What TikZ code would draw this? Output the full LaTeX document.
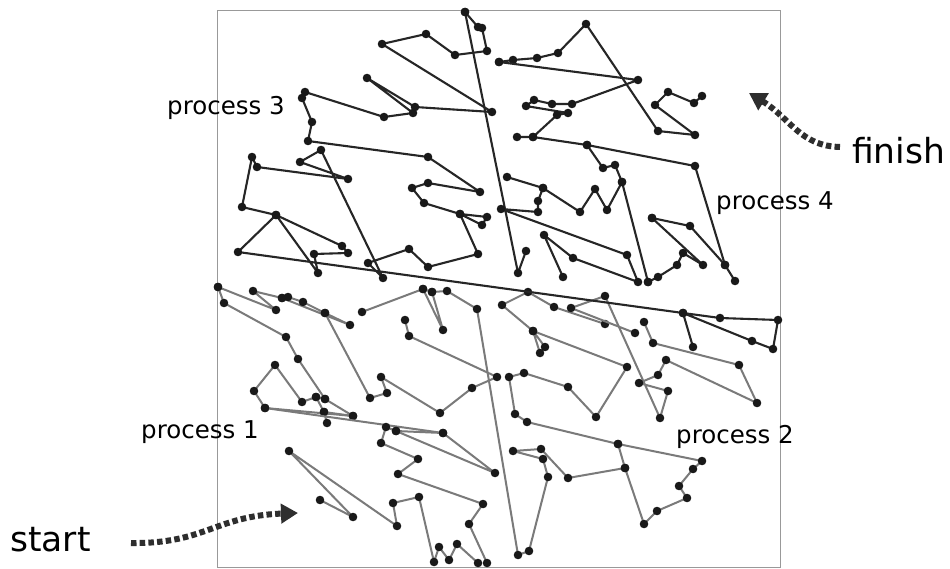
\documentclass[tikz,border=0pt]{standalone}
\usepackage{fontspec}
\newfontfamily\labfont{DejaVu Sans}
\usetikzlibrary{arrows.meta}
\tikzset{
  dk/.style={line width=2.1pt, black!85, line join=round, mark=*, mark size=4.1pt,
             mark options={fill=black!90, draw=black!90, line width=0.3pt, solid}},
  gr/.style={line width=2pt, black!52, line join=round, mark=*, mark size=4.1pt,
             mark options={fill=black!90, draw=black!90, line width=0.3pt, solid}},
  boxc/.style={draw=black!40, line width=0.8pt},
  dotarrow/.style={line width=6pt, black!82, dash pattern=on 5.5pt off 3.2pt,
                   -{Triangle[length=17pt,width=19pt]}},
  plab/.style={anchor=base west, inner sep=0pt, font=\labfont\fontsize{24.5}{28}\selectfont},
  blab/.style={anchor=base west, inner sep=0pt, font=\labfont\fontsize{34.5}{40}\selectfont}
}
\begin{document}
\begin{tikzpicture}[x=1pt,y=-1pt]
\useasboundingbox (0,0) rectangle (950,569);
\fill[white] (0,0) rectangle (950,569);
\draw[boxc] (217,10) rectangle (780,567);

% process 1 and 2 (grey)
\draw[gr] plot coordinates {(218,287) (276,310) (253,291) (282,298) (288,297) (303,302) (325,313) (350,325) (282,298)};
\draw[gr] plot coordinates {(325,313) (370,398) (387,393) (381,377) (440,413) (472,388) (497,377) (409,336) (405,320)};
\draw[gr] plot coordinates {(218,287) (224,303) (286,337) (298,359) (325,399) (316,397) (302,402) (275,365) (254,391) (265,408) (353,416) (325,399)};
\draw[gr] plot coordinates {(316,397) (324,412) (327,423)};
\draw[gr] plot coordinates {(324,412) (353,416)};
\draw[gr] plot coordinates {(265,408) (443,433) (495,473) (396,431) (386,427) (381,443) (418,459) (398,474) (483,504) (469,524) (487,563)};
\draw[gr] plot coordinates {(396,431) (443,433)};
\draw[gr] plot coordinates {(320,500) (353,517) (289,451) (397,526) (393,503) (419,497) (434,562) (439,547) (449,560) (457,544) (478,563)};
\draw[gr] plot coordinates {(362,312) (423,289) (443,330) (432,292) (447,291) (477,309) (518,555) (529,551) (548,477) (543,459) (513,451) (541,449) (568,478) (625,468) (644,524) (657,511) (687,498) (679,486) (693,469) (702,461) (618,444) (527,422) (515,414) (509,377) (524,373) (568,387) (596,417) (627,367) (533,331) (545,347) (540,353) (533,331) (502,305) (528,292) (554,307) (605,324)};
\draw[gr] plot coordinates {(423,289) (432,292)};
\draw[gr] plot coordinates {(618,444) (625,468)};
\draw[gr] plot coordinates {(635,333) (571,308) (605,296) (660,418) (668,391) (639,383) (658,375) (666,360) (757,403) (739,365) (653,343) (644,322)};

% process 3 and 4 (dark)
\draw[dk] plot coordinates {(465,12) (518,273) (526,251)};
\draw[dk] plot coordinates {(465,12) (478,27) (482,28) (487,51) (455,55) (426,34) (382,44) (492,112) (415,107) (367,78) (413,113) (384,117) (305,92) (302,98) (312,122) (308,141) (428,157) (480,192) (428,183) (412,188) (424,203) (460,214) (487,217) (482,225) (460,214) (478,254) (428,267) (409,249) (368,263) (383,278) (321,150) (300,162) (348,179) (257,167) (252,157) (242,207) (276,215) (342,246) (348,253) (314,254) (318,273) (276,215) (238,252) (683,313) (720,318) (778,320) (773,349) (752,341) (683,313) (693,347)};
\draw[dk] plot coordinates {(499,62) (513,60) (537,58) (558,53) (586,24) (658,131) (695,135) (655,105) (668,92) (694,103) (702,96)};
\draw[dk] plot coordinates {(499,62) (638,80) (572,104) (552,104) (534,100) (526,106) (568,113) (557,115) (533,137) (517,137)};
\draw[dk] plot coordinates {(533,137) (587,145) (695,166) (725,265) (735,281)};
\draw[dk] plot coordinates {(587,145) (603,168) (615,165) (622,182) (648,282)};
\draw[dk] plot coordinates {(507,177) (543,188) (580,212) (595,189) (607,210) (622,182)};
\draw[dk] plot coordinates {(543,188) (538,201) (538,212) (501,209) (627,255) (638,282) (573,258) (544,235) (563,277)};
\draw[dk] plot coordinates {(652,218) (690,226) (725,265)};
\draw[dk] plot coordinates {(652,218) (703,265) (683,253) (677,265) (658,277) (648,282)};

% labels
\node[plab] (p3) at (167,115) {process 3};
\node[plab] (p4) at (716,210) {process 4};
\node[plab] (p1) at (141,438) {process 1};
\node[plab] (p2) at (676,443) {process 2};
\node[blab] (st) at (10,551) {start};
\node[blab] (fi) at (852,164) {finish};

% arrows
\coordinate (s0) at (131,543);
\coordinate (s1) at (298,513);
\draw[dotarrow] (s0) .. controls (205,544) and (215,516) .. (s1);
\coordinate (f0) at (840,147);
\coordinate (f1) at (749,93);
\draw[dotarrow] (f0) .. controls (800,146) and (790,118) .. (f1);
\end{tikzpicture}
\end{document}
